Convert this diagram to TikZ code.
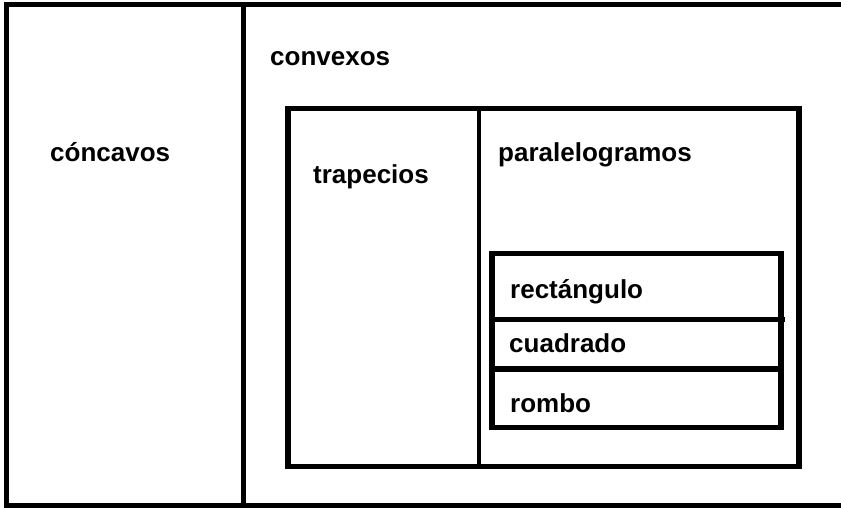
\documentclass[tikz,border=0pt]{standalone}
\usepackage{fontspec}
\setmainfont{Liberation Sans}
\begin{document}
\begin{tikzpicture}[x=1pt,y=-1pt,
  thick line/.style={line width=5.5pt,line cap=rect},
  thin line/.style={line width=4pt},
  lbl/.style={anchor=base west,inner sep=0pt,font=\fontsize{26}{30}\selectfont\bfseries}]
\useasboundingbox (0,0) rectangle (841,508);
% outer frame (no right edge visible)
\draw[thick line] (841,4.5) -- (6.5,4.5) -- (6.5,505.5) -- (841,505.5);
% divider concave / convex
\draw[line width=5pt] (243,4.5) -- (243,505.5);
% inner box (convex quadrilaterals with parallel sides)
\draw[thick line] (288,108.5) rectangle (799,466.5);
\draw[thin line] (479,108.5) -- (479,466.5);
% parallelogram sub-box
\draw[thick line] (492,253.5) rectangle (781,427.5);
\draw[line width=5.5pt] (492,319.5) -- (785,319.5);
\draw[line width=5.5pt] (492,369) -- (781,369);
% labels
\node[lbl] (concavos) at (50,162) {cóncavos};
\node[lbl] (convexos) at (270,66) {convexos};
\node[lbl] (trapecios) at (313,183) {trapecios};
\node[lbl] (paralelogramos) at (498,162) {paralelogramos};
\node[lbl] (rectangulo) at (510,298) {rectángulo};
\node[lbl] (cuadrado) at (509,352) {cuadrado};
\node[lbl] (rombo) at (510,412) {rombo};
\end{tikzpicture}
\end{document}
